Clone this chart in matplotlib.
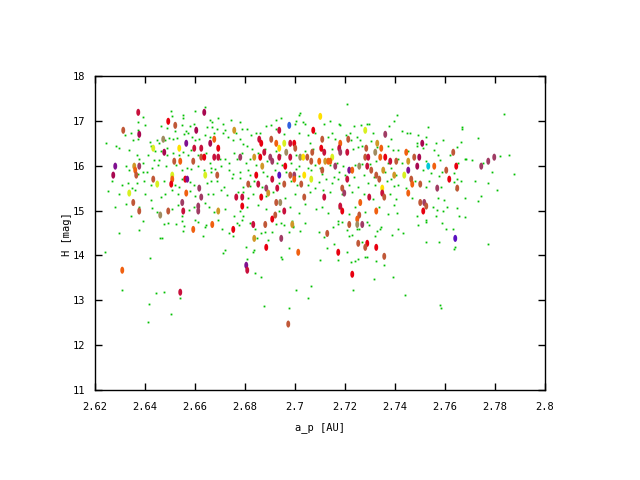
import numpy as np
import matplotlib
matplotlib.use("Agg")
import matplotlib.pyplot as plt
from matplotlib.path import Path
from matplotlib.transforms import Affine2D

# Hintergrundpunkte (gruen)
bg_a = [
    2.6505, 2.6393, 2.6641, 2.6509, 2.6553, 2.6553, 2.6601, 2.6661, 2.6669, 2.6693, 2.6713, 2.6745, 2.6781,
    2.6372, 2.6401, 2.6465, 2.6489, 2.6521, 2.6549, 2.6565, 2.6581, 2.6597, 2.6649, 2.6669, 2.6689, 2.6721,
    2.6765, 2.6789, 2.6245, 2.6285, 2.6321, 2.6345, 2.6373, 2.6353, 2.6373, 2.6421, 2.6425, 2.6449, 2.6457,
    2.6481, 2.6497, 2.6513, 2.6529, 2.6557, 2.6573, 2.6589, 2.6601, 2.6617, 2.6641, 2.6661, 2.6677, 2.6713,
    2.6733, 2.6753, 2.6781, 2.6793, 2.6297, 2.6337, 2.6369, 2.6377, 2.6393, 2.6413, 2.6441, 2.6437, 2.6457,
    2.6465, 2.6489, 2.6489, 2.6513, 2.6537, 2.6553, 2.6573, 2.6585, 2.6613, 2.6645, 2.6661, 2.6665, 2.6701,
    2.6721, 2.6737, 2.6757, 2.6769, 2.6789, 2.6325, 2.6337, 2.6373, 2.6393, 2.6409, 2.6429, 2.6453, 2.6485,
    2.6525, 2.6549, 2.6569, 2.6585, 2.6613, 2.6637, 2.6665, 2.6681, 2.6705, 2.6737, 2.6753, 2.6781, 2.6269,
    2.6309, 2.6333, 2.6349, 2.6369, 2.6397, 2.6425, 2.6477, 2.6521, 2.6537, 2.6549, 2.6581, 2.6597, 2.6649,
    2.6665, 2.6689, 2.6717, 2.6749, 2.6781, 2.6793, 2.6253, 2.6297, 2.6361, 2.6401, 2.6425, 2.6465, 2.6481,
    2.6509, 2.6533, 2.6581, 2.6601, 2.6653, 2.6673, 2.6705, 2.6729, 2.6773, 2.6793, 2.6281, 2.6325, 2.6345,
    2.6377, 2.6429, 2.6449, 2.6509, 2.6533, 2.6549, 2.6577, 2.6597, 2.6641, 2.6657, 2.6677, 2.6721, 2.6757,
    2.6781, 2.6793,
    2.7209, 2.7017, 2.7021, 2.7005, 2.7001, 2.7041, 2.7033, 2.7117, 2.7141, 2.7177, 2.7181, 2.7237, 2.7221,
    2.7265, 2.7289, 2.7297, 2.7377, 2.7397, 2.6809, 2.6825, 2.6845, 2.6861, 2.6885, 2.6905, 2.6925, 2.6945,
    2.6925, 2.6957, 2.7017, 2.7053, 2.7061, 2.7081, 2.7133, 2.7149, 2.7161, 2.7205, 2.7225, 2.7249, 2.7261,
    2.7305, 2.7313, 2.7385, 2.6809, 2.6829, 2.6853, 2.6881, 2.6925, 2.6941, 2.7005, 2.7041, 2.7073, 2.7109,
    2.7149, 2.7233, 2.7253, 2.7269, 2.7329, 2.7373, 2.7393, 2.6805, 2.6821, 2.6845, 2.6889, 2.6929, 2.6949,
    2.6985, 2.7005, 2.7017, 2.7053, 2.7081, 2.7101, 2.7141, 2.7169, 2.7193, 2.7241, 2.7269, 2.7301, 2.7325,
    2.7373, 2.7385, 2.6813, 2.6821, 2.6873, 2.6889, 2.6921, 2.6965, 2.7017, 2.7065, 2.7109, 2.7125, 2.7157,
    2.7177, 2.7201, 2.7237, 2.7277, 2.7317, 2.7361, 2.7385, 2.6821, 2.6837, 2.6869, 2.6937, 2.6985, 2.7009,
    2.7053, 2.7097, 2.7149, 2.7173, 2.7217, 2.7253, 2.7293, 2.7321, 2.7369, 2.7397, 2.6813, 2.6833, 2.6885,
    2.6913, 2.6961, 2.7001, 2.7061, 2.7081, 2.7113, 2.7141, 2.7189, 2.7229, 2.7277, 2.7313, 2.7381, 2.6809,
    2.6853, 2.6885, 2.6937, 2.6981, 2.7017, 2.7041, 2.7085, 2.7109, 2.7133, 2.7177, 2.7217, 2.7241, 2.7281,
    2.7337, 2.7373, 2.7397,
    2.7409, 2.7837, 2.7429, 2.7449, 2.7461, 2.7493, 2.7525, 2.7533, 2.7669, 2.7669, 2.7733, 2.7489, 2.7525,
    2.7565, 2.7593, 2.7665, 2.7649, 2.7413, 2.7453, 2.7489, 2.7513, 2.7557, 2.7573, 2.7621, 2.7685, 2.7709,
    2.7821, 2.7413, 2.7429, 2.7525, 2.7581, 2.7653, 2.7681, 2.7857, 2.7513, 2.7545, 2.7589, 2.7637, 2.7665,
    2.7753, 2.7789, 2.7877, 2.7405, 2.7481, 2.7537, 2.7577, 2.7637, 2.7649, 2.7721, 2.7413, 2.7445, 2.7525,
    2.7585, 2.7645, 2.7809, 2.7405, 2.7469, 2.7573, 2.7597, 2.7681, 2.7745, 2.7553, 2.7569, 2.7593, 2.7609,
    2.7649, 2.7733, 2.7773, 2.7409, 2.7489, 2.7525, 2.7565, 2.7657, 2.7681,
    2.6393, 2.6477, 2.6493, 2.6525, 2.6549, 2.6557, 2.6553, 2.6601, 2.6613, 2.6645, 2.6641, 2.6693, 2.6709,
    2.6737, 2.6753, 2.6769, 2.6777, 2.6789, 2.6297, 2.6377, 2.6461, 2.6469, 2.6633, 2.6241, 2.6421, 2.6721,
    2.6713, 2.6309, 2.6445, 2.6477, 2.6541, 2.6417, 2.6505, 2.6413,
    2.6821, 2.6841, 2.6865, 2.6881, 2.6849, 2.6925, 2.6945, 2.6957, 2.6993, 2.7041, 2.6909, 2.6977, 2.7021,
    2.7097, 2.7117, 2.7153, 2.7173, 2.7173, 2.7189, 2.7209, 2.7217, 2.7229, 2.7249, 2.7257, 2.7289, 2.7297,
    2.7321, 2.7329, 2.7341, 2.7345, 2.7389, 2.7269, 2.6805, 2.6837, 2.6833, 2.6809, 2.6893, 2.6945, 2.6949,
    2.6977, 2.7129, 2.7157, 2.7173, 2.7209, 2.7225, 2.7241, 2.7253, 2.7281, 2.7289, 2.7325, 2.7357, 2.7101,
    2.6841, 2.6865, 2.7317, 2.7393, 2.7065, 2.7005, 2.7233, 2.7053, 2.6877, 2.6977, 2.6989, 2.6993,
    2.7413, 2.7433, 2.7493, 2.7525, 2.7589, 2.7605, 2.7633, 2.7525, 2.7577, 2.7641, 2.7637, 2.7773, 2.7441,
    2.7581, 2.7585,
]
bg_h = [
    17.21, 17.08, 17.32, 17.10, 17.12, 17.06, 17.23, 17.03, 16.97, 17.06, 16.92, 17.01, 16.97,
    16.97, 16.90, 16.88, 16.83, 16.77, 16.90, 16.77, 16.88, 16.94, 16.86, 16.86, 16.81, 16.79,
    16.74, 16.81, 16.50, 16.45, 16.68, 16.72, 16.79, 16.57, 16.59, 16.52, 16.43, 16.57, 16.50,
    16.57, 16.61, 16.59, 16.61, 16.70, 16.72, 16.65, 16.57, 16.59, 16.68, 16.63, 16.74, 16.72,
    16.65, 16.57, 16.59, 16.48, 16.39, 16.34, 16.23, 16.14, 16.07, 16.25, 16.32, 16.12, 16.12,
    16.32, 16.39, 16.25, 16.28, 16.23, 16.30, 16.23, 16.34, 16.25, 16.28, 16.07, 15.94, 16.14,
    16.14, 16.05, 16.28, 16.16, 16.28, 15.99, 15.90, 15.81, 15.87, 15.87, 15.94, 16.01, 15.99,
    16.01, 15.90, 15.96, 15.92, 15.99, 15.90, 15.87, 15.92, 15.99, 15.90, 15.81, 15.87, 15.67,
    15.56, 15.61, 15.50, 15.61, 15.67, 15.56, 15.65, 15.58, 15.52, 15.70, 15.63, 15.58, 15.61,
    15.65, 15.67, 15.52, 15.72, 15.72, 15.52, 15.43, 15.38, 15.45, 15.36, 15.23, 15.30, 15.36,
    15.45, 15.36, 15.43, 15.32, 15.36, 15.38, 15.45, 15.34, 15.41, 15.41, 15.07, 15.14, 14.89,
    15.09, 15.05, 14.96, 15.03, 15.12, 14.89, 15.01, 15.07, 15.16, 15.09, 14.96, 15.03, 14.89,
    14.98, 14.89,
    17.37, 17.12, 17.17, 16.99, 16.92, 16.94, 16.97, 16.92, 16.99, 16.94, 16.90, 16.88, 16.72,
    16.90, 16.92, 16.92, 16.88, 16.99, 16.81, 16.68, 16.72, 16.74, 16.88, 16.90, 17.03, 17.06,
    16.81, 16.70, 16.72, 16.68, 16.50, 16.74, 16.63, 16.72, 16.59, 16.68, 16.57, 16.63, 16.57,
    16.54, 16.72, 16.59, 16.45, 16.37, 16.28, 16.37, 16.32, 16.25, 16.25, 16.32, 16.37, 16.34,
    16.37, 16.37, 16.41, 16.45, 16.41, 16.45, 16.34, 16.05, 16.14, 16.01, 16.10, 16.05, 16.01,
    16.05, 15.92, 15.99, 15.96, 16.01, 15.94, 16.01, 16.05, 15.99, 16.01, 16.03, 16.03, 16.10,
    16.05, 15.94, 15.90, 15.79, 15.87, 15.76, 15.90, 15.85, 15.76, 15.90, 15.81, 15.70, 15.74,
    15.85, 15.79, 15.74, 15.79, 15.74, 15.87, 15.70, 15.54, 15.65, 15.52, 15.61, 15.65, 15.58,
    15.56, 15.63, 15.61, 15.70, 15.56, 15.52, 15.61, 15.58, 15.65, 15.54, 15.29, 15.36, 15.32,
    15.41, 15.29, 15.36, 15.41, 15.50, 15.45, 15.41, 15.36, 15.41, 15.36, 15.25, 15.36, 15.07,
    15.12, 15.03, 14.98, 15.09, 14.94, 15.14, 15.03, 15.07, 14.94, 15.05, 14.92, 15.09, 14.96,
    15.07, 14.92, 15.12,
    17.12, 17.15, 16.77, 16.72, 16.74, 16.68, 16.65, 16.86, 16.86, 16.81, 16.61, 16.50, 16.48,
    16.50, 16.57, 16.52, 16.41, 16.34, 16.32, 16.43, 16.39, 16.34, 16.25, 16.25, 16.14, 16.12,
    16.21, 16.14, 16.05, 16.10, 16.12, 16.07, 16.16, 16.25, 15.90, 15.83, 15.87, 15.83, 15.67,
    16.05, 15.85, 15.81, 15.79, 15.67, 15.67, 15.76, 15.63, 15.70, 15.65, 15.58, 15.50, 15.52,
    15.52, 15.47, 15.45, 15.25, 15.29, 15.29, 15.23, 15.27, 15.32, 15.07, 15.01, 14.98, 15.09,
    15.05, 15.21, 15.61, 14.94, 14.89, 14.80, 14.89, 14.87, 14.85,
    14.76, 14.69, 14.72, 14.69, 14.76, 14.65, 14.54, 14.78, 14.74, 14.67, 14.63, 14.78, 14.58,
    14.49, 14.43, 14.72, 14.67, 14.78, 14.49, 14.56, 14.38, 14.38, 14.43, 14.07, 13.94, 14.11,
    14.05, 13.22, 13.16, 13.18, 13.04, 12.91, 12.69, 12.51,
    14.72, 14.60, 14.49, 14.52, 14.38, 14.69, 14.72, 14.67, 14.63, 14.72, 14.52, 14.52, 14.54,
    14.52, 14.40, 14.63, 14.76, 14.69, 14.74, 14.56, 14.43, 14.45, 14.58, 14.58, 14.74, 14.67,
    14.43, 14.54, 14.58, 14.63, 14.45, 14.29, 14.18, 14.11, 14.07, 13.91, 14.34, 13.96, 13.91,
    14.16, 14.16, 14.25, 13.89, 14.07, 13.85, 13.87, 13.91, 13.96, 13.96, 13.87, 13.78, 13.89,
    13.60, 13.51, 13.47, 13.51, 13.31, 13.22, 13.24, 13.04, 12.87, 12.82, 14.76, 14.65,
    14.58, 14.49, 14.67, 14.74, 14.72, 14.58, 14.58, 14.31, 14.31, 14.18, 14.14, 14.25, 13.11,
    12.89, 12.82,
]

# Farbige Objekte: a_p, H und Farbcode
obj_a = [
    2.6373, 2.6637, 2.6493, 2.6521, 2.6313, 2.6377, 2.6605, 2.6757, 2.6473, 2.6565, 2.6677, 2.6661, 2.6433,
    2.6537, 2.6597, 2.6625, 2.6693, 2.6477, 2.6517, 2.6541, 2.6593, 2.6625, 2.6637, 2.6677, 2.6693, 2.6781,
    2.6281, 2.6357, 2.6377, 2.6361, 2.6273, 2.6365, 2.6433, 2.6509, 2.6509, 2.6561, 2.6569, 2.6641, 2.6689,
    2.6449, 2.6505, 2.6617, 2.6337, 2.6565, 2.6625, 2.6765, 2.6789, 2.6353, 2.6549, 2.6613, 2.6789, 2.6377,
    2.6461, 2.6493, 2.6553, 2.6613, 2.6693,
    2.7101, 2.6977, 2.6937, 2.7073, 2.7281, 2.7361, 2.6857, 2.6905, 2.7109, 2.7213, 2.6865, 2.6925, 2.6957,
    2.6981, 2.6997, 2.7181, 2.7329, 2.6937, 2.7001, 2.7105, 2.7177, 2.7285, 2.7345, 2.6877, 2.6965, 2.7069,
    2.7117, 2.7181, 2.7209, 2.7321, 2.6837, 2.6861, 2.6901, 2.6937, 2.6981, 2.7021, 2.7033, 2.7049, 2.7149,
    2.7281, 2.7293, 2.7341, 2.7361, 2.6909, 2.7065, 2.7097, 2.7121, 2.7133, 2.7141, 2.7381, 2.6869, 2.6961,
    2.7161, 2.7257, 2.7289, 2.7305, 2.7353, 2.7397, 2.6845, 2.6937, 2.6981, 2.6997, 2.7037, 2.7109, 2.7217,
    2.7229, 2.7325, 2.6909, 2.6997, 2.7065, 2.7209, 2.7337, 2.6813, 2.6853, 2.6957, 2.7025, 2.6885, 2.6929,
    2.7189, 2.7349, 2.6893, 2.7197, 2.7349, 2.6865, 2.7037, 2.7117, 2.7297, 2.7357, 2.6925, 2.6941, 2.7261,
    2.6957, 2.7189, 2.7325, 2.7181, 2.6921, 2.7257, 2.6909, 2.7249,
    2.7509, 2.7445, 2.7633, 2.7497, 2.7477, 2.7797, 2.7773, 2.7405, 2.7453, 2.7745, 2.7489, 2.7533, 2.7557,
    2.7645, 2.7453, 2.7605, 2.7437, 2.7465, 2.7617, 2.7469, 2.7501, 2.7569, 2.7649, 2.7453, 2.7501, 2.7517,
    2.7525, 2.7513,
    2.6593, 2.6669, 2.6753, 2.6309, 2.6541, 2.6833, 2.6881, 2.6989, 2.7217, 2.7249, 2.7269, 2.6837, 2.6945,
    2.7129, 2.6885, 2.7013, 2.7253, 2.7289, 2.7281, 2.7325, 2.7357, 2.7173, 2.6805, 2.6809, 2.7229, 2.6973,
    2.7641,
]
obj_h = [
    17.19, 17.19, 16.99, 16.90, 16.79, 16.70, 16.79, 16.79, 16.59, 16.50, 16.59, 16.50, 16.39,
    16.39, 16.39, 16.39, 16.39, 16.30, 16.10, 16.10, 16.10, 16.19, 16.19, 16.19, 16.19, 16.19,
    15.99, 15.99, 15.99, 15.90, 15.79, 15.79, 15.70, 15.79, 15.70, 15.70, 15.70, 15.79, 15.79,
    15.59, 15.59, 15.50, 15.39, 15.39, 15.30, 15.30, 15.30, 15.18, 15.18, 15.10, 15.10, 14.99,
    14.90, 14.99, 14.99, 14.99, 14.99,
    17.10, 16.90, 16.79, 16.79, 16.79, 16.70, 16.59, 16.59, 16.59, 16.59, 16.50, 16.50, 16.50,
    16.50, 16.50, 16.50, 16.50, 16.39, 16.39, 16.39, 16.39, 16.39, 16.39, 16.30, 16.30, 16.30,
    16.30, 16.30, 16.30, 16.30, 16.19, 16.19, 16.19, 16.19, 16.19, 16.19, 16.19, 16.19, 16.19,
    16.19, 16.19, 16.19, 16.19, 16.10, 16.10, 16.10, 16.10, 16.10, 16.10, 16.10, 15.99, 15.99,
    15.99, 15.99, 15.99, 15.90, 15.90, 15.79, 15.79, 15.79, 15.79, 15.79, 15.79, 15.90, 15.90,
    15.90, 15.79, 15.70, 15.70, 15.70, 15.70, 15.70, 15.59, 15.59, 15.59, 15.59, 15.50, 15.50,
    15.50, 15.50, 15.39, 15.39, 15.39, 15.30, 15.30, 15.30, 15.30, 15.30, 15.18, 15.18, 15.18,
    14.99, 14.99, 14.99, 15.10, 14.90, 14.90, 14.81, 14.81,
    16.50, 16.30, 16.30, 16.19, 16.19, 16.19, 16.10, 16.10, 16.10, 15.99, 15.99, 15.99, 15.99,
    15.99, 15.90, 15.90, 15.79, 15.70, 15.70, 15.59, 15.59, 15.50, 15.50, 15.39, 15.18, 15.18,
    15.10, 14.99,
    14.58, 14.69, 14.58, 13.67, 13.18, 14.69, 14.69, 14.69, 14.69, 14.69, 14.69, 14.38, 14.38,
    14.49, 14.18, 14.07, 14.27, 14.27, 14.18, 14.18, 13.98, 14.07, 13.78, 13.67, 13.58, 12.47,
    14.38,
]
obj_code = (
    "CQRBBQQTKPOQGYCCRQBOBBRCCMPTMOQBBGORPGBGRMGOMCCBMMRBKBCMT"
    "YLCRGMCBBBROGCROTYBRCBOCKBCMCKTRMCCKYBGBCORMBOTOOCTRMKCBTTRVBMYBPOBCOGCBBCBBMCBYTMCRBCCBBKOCROCBBRO"
    "QOBQBMMBTMQXORPBGBROBMBOBMBR"
    "OOROCCBTBKMTMBROBRBRBRPCRBV"
)
palette = {
    "C": "#c8103c", "R": "#e80010", "O": "#f06010", "B": "#c05838", "M": "#a03c64",
    "P": "#801090", "Q": "#a80850", "Y": "#ffe000", "G": "#d8f020", "T": "#d09828",
    "K": "#a08c60", "V": "#5a10c0", "L": "#3060e0", "X": "#00c8d8",
}

x_ticks = [2.62, 2.64, 2.66, 2.68, 2.70, 2.72, 2.74, 2.76, 2.78, 2.80]
x_labels = ["2.62", "2.64", "2.66", "2.68", "2.7", "2.72", "2.74", "2.76", "2.78", "2.8"]
y_ticks = [11, 12, 13, 14, 15, 16, 17, 18]

plt.rcParams["font.family"] = ["DejaVu Sans Mono"]

fig = plt.figure(figsize=(6.4, 4.8), dpi=100)
ax = fig.add_axes([95 / 640, 1 - 390 / 480, 450 / 640, 314 / 480])

ax.plot(bg_a, bg_h, linestyle="none", marker="s", markersize=1.3,
        markeredgewidth=0, color="#00c000")

# Ellipse als Marker (hoch und schmal)
ell = Path.unit_circle().transformed(Affine2D().scale(0.55, 1.0))
cols = [palette[c] for c in obj_code]
ax.scatter(obj_a, obj_h, s=26, marker=ell, c=cols, linewidths=0, zorder=3)

ax.set_xlim(2.62, 2.80)
ax.set_ylim(11, 18)
ax.set_xticks(x_ticks)
ax.set_xticklabels(x_labels)
ax.set_yticks(y_ticks)
ax.tick_params(direction="in", length=5, width=1, top=True, right=True,
               labelsize=7.5, colors="black")
ax.tick_params(axis="x", pad=9)
ax.tick_params(axis="y", pad=7)
for s in ax.spines.values():
    s.set_linewidth(1)

fig.text(320 / 640, 1 - 428 / 480, "a_p [AU]", ha="center", va="center", fontsize=7.5)
fig.text(67 / 640, 1 - 234 / 480, "H [mag]", ha="center", va="center", rotation=90, fontsize=7.5)

fig.savefig("out.png", dpi=100)
